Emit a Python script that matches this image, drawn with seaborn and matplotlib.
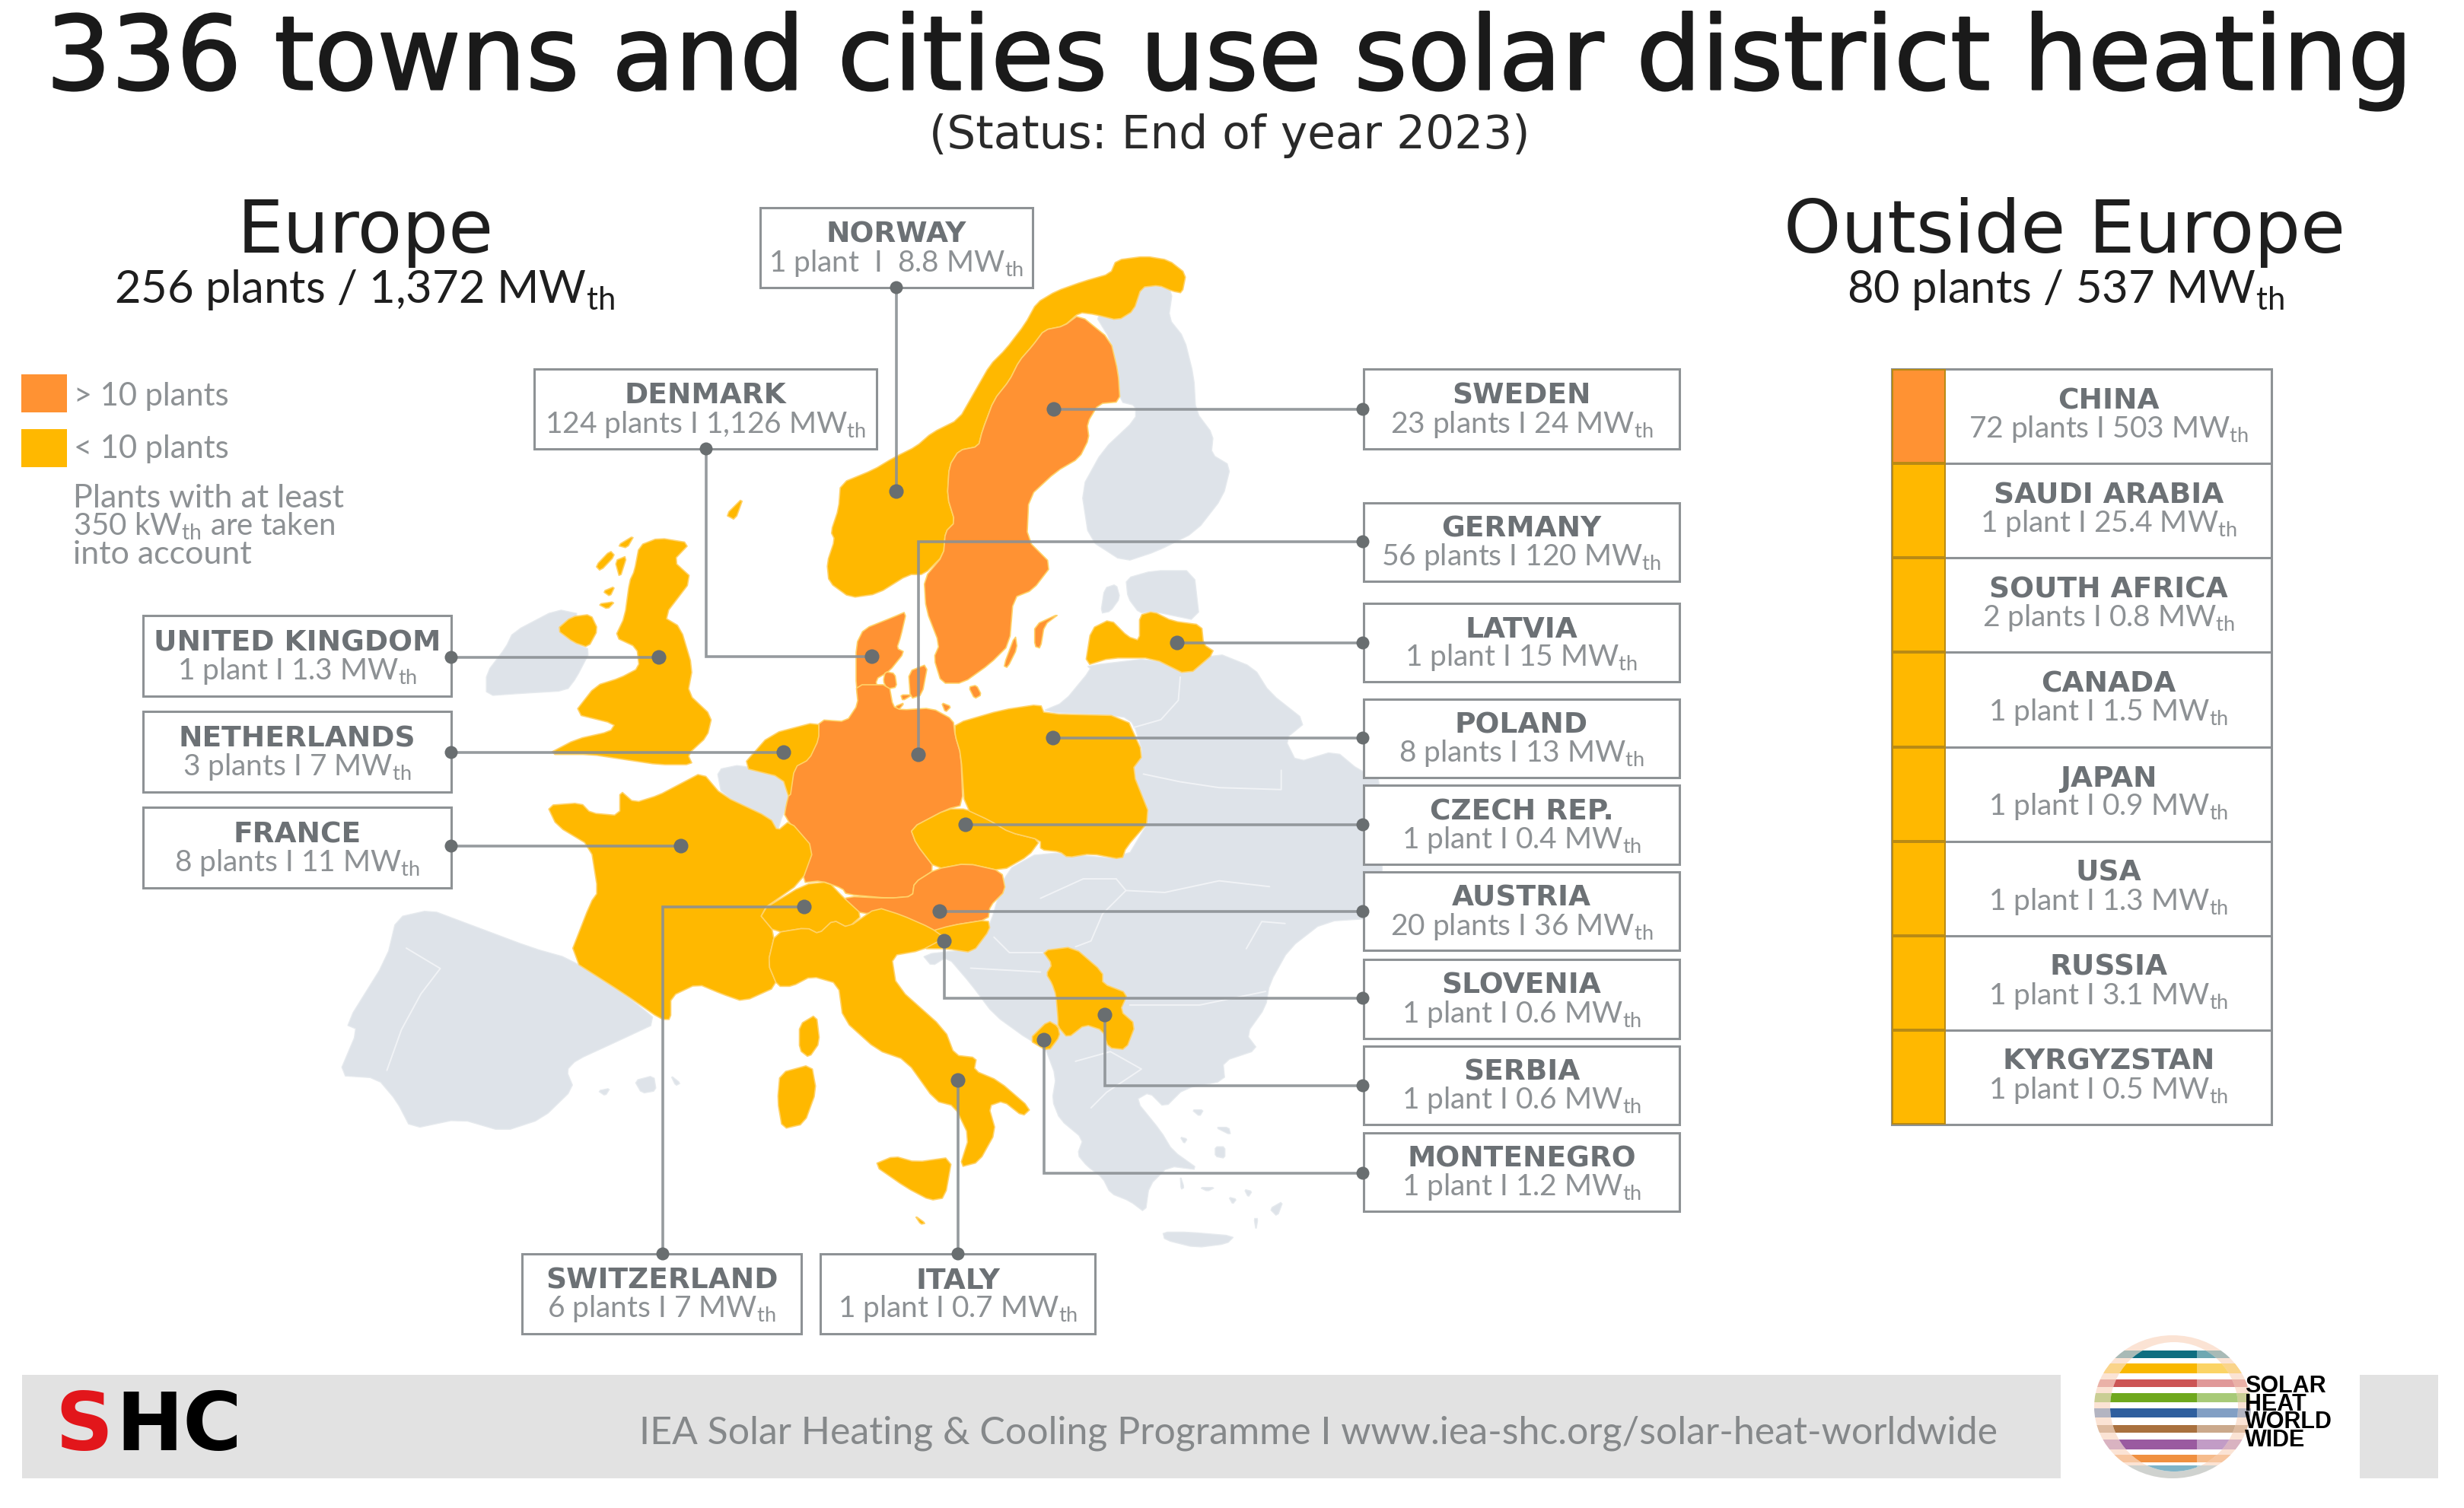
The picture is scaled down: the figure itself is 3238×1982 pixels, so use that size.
import numpy as np
import pandas as pd
import seaborn as sns
import matplotlib.pyplot as plt
import matplotlib.patheffects as pe
from matplotlib.colors import ListedColormap
from matplotlib.patches import Polygon, Rectangle, Ellipse

W, H = 3238, 1982
ORANGE = "#FF9233"
GOLD = "#FFB800"
GREY_LAND = "#DEE3E9"
BOX_EDGE = "#8E9295"
NAME_COL = "#6C7175"
STAT_COL = "#8D9194"
DOT_COL = "#696E70"

# chart values
europe_names = ["NORWAY", "DENMARK", "UNITED KINGDOM", "NETHERLANDS", "FRANCE", "SWEDEN", "GERMANY", "LATVIA",
                "POLAND", "CZECH REP.", "AUSTRIA", "SLOVENIA", "SERBIA", "MONTENEGRO", "SWITZERLAND", "ITALY"]
europe_plants = [1, 124, 1, 3, 8, 23, 56, 1, 8, 1, 20, 1, 1, 1, 6, 1]
europe_mw = [8.8, 1126, 1.3, 7, 11, 24, 120, 15, 13, 0.4, 36, 0.6, 0.6, 1.2, 7, 0.7]

outside_names = ["CHINA", "SAUDI ARABIA", "SOUTH AFRICA", "CANADA", "JAPAN", "USA", "RUSSIA", "KYRGYZSTAN"]
outside_plants = [72, 1, 2, 1, 1, 1, 1, 1]
outside_mw = [503, 25.4, 0.8, 1.5, 0.9, 1.3, 3.1, 0.5]

# label boxes, image pixels: x0, y0, x1, y1
RX0, RX1 = 1792, 2207
boxes = [(999, 273, 1357, 378), (702, 485, 1152, 590), (188, 809, 593, 915), (188, 935, 593, 1041),
         (188, 1061, 593, 1167), (RX0, 485, RX1, 590), (RX0, 661, RX1, 764), (RX0, 793, RX1, 896),
         (RX0, 919, RX1, 1022), (RX0, 1032, RX1, 1136), (RX0, 1146, RX1, 1249), (RX0, 1261, RX1, 1365),
         (RX0, 1375, RX1, 1478), (RX0, 1489, RX1, 1592), (686, 1648, 1053, 1753), (1078, 1648, 1439, 1753)]

# leader routes, first point sits on the box, last point on the country
leaders = [[(1178, 378), (1178, 646)], [(928, 590), (928, 863), (1146, 863)], [(593, 864), (866, 864)],
           [(593, 989), (1030, 989)], [(593, 1112), (895, 1112)], [(1791, 538), (1385, 538)],
           [(1791, 712), (1207, 712), (1207, 992)], [(1791, 845), (1547, 845)], [(1791, 970), (1384, 970)],
           [(1791, 1084), (1269, 1084)], [(1791, 1198), (1235, 1198)], [(1791, 1312), (1241, 1312), (1241, 1237)],
           [(1791, 1427), (1452, 1427), (1452, 1334)], [(1791, 1542), (1372, 1542), (1372, 1367)],
           [(871, 1648), (871, 1192), (1057, 1192)], [(1259, 1648), (1259, 1420)]]

# map outlines, each with the crop it was read from
C2 = (400, 650, 1.568, 1.493)
C3 = (1000, 250, 1.96, 1.96)
C4 = (1000, 900, 1.96, 1.96)

grey_shapes = [
    (C4, [(780, 45), (850, -40), (840, -49), (1010, -69), (1100, -24), (1170, -84), (1270, -44), (1310, 20), (1405, 95),
          (1350, 140), (1380, 200), (1480, 170), (1540, 220), (1600, 240), (1600, 600), (1450, 610), (1360, 680),
          (1310, 770), (1300, 830), (1250, 900), (1280, 940), (1190, 970), (1195, 1020), (1090, 1040), (1040, 1090),
          (1000, 1050), (965, 1070), (1030, 1150), (1060, 1200), (1130, 1250), (1050, 1240), (1000, 1290), (990, 1360),
          (950, 1330), (900, 1310), (880, 1270), (840, 1240), (815, 1210), (830, 1170), (770, 1120), (750, 1070),
          (760, 1010), (730, 930), (690, 915), (600, 850), (540, 770), (480, 700), (440, 725), (415, 695), (550, 680),
          (590, 620), (630, 480), (720, 430), (940, 450), (1000, 350), (950, 220), (985, 180), (960, 100), (930, 80),
          (720, 70)]),
    (C3, [(975, 250), (1025, 245), (1060, 260), (1050, 330), (1090, 380), (1115, 480), (1120, 570), (1165, 630),
          (1160, 680), (1210, 710), (1190, 790), (1120, 880), (1020, 930), (935, 958), (845, 900), (825, 770),
          (880, 670), (965, 590), (965, 555), (925, 545), (920, 470), (900, 385), (860, 320), (920, 335), (960, 310)]),
    (C3, [(940, 1000), (1010, 980), (1115, 980), (1130, 1110), (1010, 1085), (975, 1090), (945, 1050)]),
    (C3, [(885, 1025), (915, 1015), (925, 1050), (900, 1085), (875, 1090)]),
    (C2, [(430, 270), (520, 225), (570, 235), (520, 265), (555, 290), (590, 305), (560, 360), (540, 385), (450, 390),
          (375, 395), (375, 350), (415, 300)]),
    (C2, [(190, 830), (260, 815), (330, 840), (470, 890), (545, 910), (660, 980), (730, 1035), (640, 1075), (560, 1110),
          (540, 1130), (555, 1165), (490, 1225), (410, 1250), (320, 1225), (220, 1245), (190, 1190), (150, 1145),
          (70, 1140), (110, 1050), (85, 1040), (170, 910)]),
    (C2, [(850, 540), (900, 530), (985, 555), (1000, 605), (985, 630), (975, 660), (960, 635), (860, 590)]),
    (C2, [(680, 1150), (720, 1140), (725, 1170), (695, 1175)]),
    (C2, [(755, 1140), (775, 1155), (765, 1160)]),
    (C2, [(605, 1170), (630, 1165), (620, 1180)]),
    (C4, [(1035, 1410), (1100, 1410), (1220, 1420), (1200, 1440), (1120, 1450), (1040, 1430)]),
    (C4, [(1310, 1350), (1345, 1330), (1330, 1370)]),
    (C4, [(1110, 1095), (1140, 1095), (1130, 1112)]),
    (C4, [(1170, 1140), (1205, 1140), (1210, 1160)]),
    (C4, [(1170, 1190), (1195, 1190), (1195, 1220), (1170, 1215)]),
    (C4, [(1080, 1165), (1098, 1170), (1090, 1182)]),
    (C4, [(1245, 1300), (1265, 1305), (1255, 1320)]),
    (C4, [(1205, 1320), (1225, 1325), (1215, 1338)]),
    (C4, [(1130, 1295), (1170, 1295), (1150, 1305)]),
    (C4, [(1080, 1265), (1090, 1295), (1082, 1300)]),
    (C4, [(1270, 1375), (1280, 1375), (1275, 1405)]),
]

# thin white borders inside the grey land
grey_borders = [
    (C4, [(1080, -20), (1075, 40), (1030, 90), (960, 110)]),
    (C4, [(985, 230), (1080, 250), (1180, 265), (1340, 270), (1340, 220)]),
    (C4, [(915, 500), (940, 530), (1040, 535), (1180, 505), (1310, 520)]),
    (C4, [(720, 550), (830, 500), (915, 500)]),
    (C4, [(940, 530), (880, 590), (850, 660), (810, 675)]),
    (C4, [(600, 650), (640, 690), (725, 690)]),
    (C4, [(540, 730), (720, 740)]),
    (C4, [(950, 825), (1130, 825), (1300, 790)]),
    (C4, [(1250, 680), (1290, 610), (1350, 615)]),
    (C4, [(810, 970), (900, 945), (980, 990), (890, 1050), (850, 1090)]),
    (C2, [(210, 890), (280, 930), (240, 980), (200, 1050), (170, 1130)]),
]

country_shapes = {
    "NORWAY": [(C3, [(175, 1010), (170, 960), (190, 900), (180, 880), (200, 820), (205, 755), (290, 720), (340, 690),
                     (400, 660), (440, 625), (510, 590), (550, 520), (590, 450), (630, 410), (680, 345), (710, 290),
                     (760, 260), (830, 235), (900, 215), (915, 180), (990, 170), (1050, 180), (1095, 215), (1085, 265),
                     (1060, 260), (1025, 245), (980, 250), (960, 310), (920, 335), (860, 320), (820, 315), (780, 350),
                     (730, 360), (700, 400), (665, 440), (640, 490), (600, 540), (570, 620), (560, 660), (510, 670),
                     (485, 710), (480, 790), (500, 855), (475, 880), (470, 940), (420, 990), (380, 990), (300, 1040),
                     (230, 1050)])],
    "SWEDEN": [(C3, [(820, 320), (900, 385), (920, 470), (925, 545), (870, 550), (840, 600), (845, 640), (820, 690),
                     (760, 725), (690, 790), (685, 900), (750, 965), (700, 1030), (650, 1050), (640, 1170), (590, 1220),
                     (520, 1270), (465, 1270), (445, 1205), (460, 1170), (425, 1080), (420, 1000), (470, 940),
                     (475, 880), (500, 855), (480, 790), (485, 710), (510, 670), (560, 660), (570, 620), (600, 540),
                     (640, 490), (665, 440), (700, 400), (730, 360), (780, 350)]),
               (C3, [(705, 1120), (770, 1090), (730, 1120), (720, 1180), (705, 1175)]),
               (C3, [(655, 1145), (660, 1180), (635, 1230), (625, 1225)])],
    "DENMARK": [(C3, [(245, 1285), (245, 1170), (265, 1130), (340, 1100), (375, 1085), (360, 1150), (350, 1180),
                      (370, 1190), (330, 1240), (295, 1260), (305, 1300), (330, 1340), (260, 1340)]),
                (C3, [(320, 1240), (345, 1245), (350, 1280), (325, 1285), (315, 1265)]),
                (C3, [(380, 1240), (430, 1220), (415, 1300), (385, 1310)]),
                (C3, [(360, 1300), (390, 1300), (365, 1315)]),
                (C3, [(345, 1330), (370, 1320), (350, 1345)]),
                (C3, [(535, 1280), (555, 1275), (568, 1300), (550, 1310)])],
    "GERMANY": [(C4, [(150, 90), (220, 95), (250, 50), (245, 0), (330, 0), (340, 55), (360, 65), (440, 60), (495, 90),
                      (500, 130), (515, 180), (520, 310), (480, 320), (385, 370), (400, 410), (450, 475), (395, 510),
                      (390, 545), (330, 550), (220, 540), (210, 525), (155, 505), (105, 510), (130, 420), (60, 340),
                      (65, 310), (75, 270), (85, 190), (145, 150)]),
                (C3, [(465, 1320), (490, 1330), (475, 1345)])],
    "CZECH REP.": [(C4, [(385, 370), (480, 320), (530, 320), (590, 350), (640, 380), (720, 400), (690, 440), (620, 480),
                         (530, 460), (450, 475), (400, 410)])],
    "POLAND": [(C4, [(500, 100), (620, 65), (720, 50), (730, 75), (940, 80), (985, 180), (955, 220), (1005, 345),
                     (940, 420), (930, 450), (850, 435), (790, 445), (770, 430), (720, 425), (720, 400), (640, 380),
                     (590, 350), (525, 320), (515, 180), (500, 130)])],
    "AUSTRIA": [(C4, [(220, 545), (330, 550), (390, 545), (395, 510), (450, 475), (530, 460), (620, 480), (630, 530),
                      (590, 570), (585, 605), (490, 620), (440, 640), (395, 620), (350, 590), (300, 585), (265, 590),
                      (210, 570)])],
    "SLOVENIA": [(C4, [(420, 640), (490, 620), (585, 605), (590, 630), (545, 690), (480, 680), (415, 680)])],
    "LATVIA": [(C3, [(835, 1225), (850, 1130), (900, 1105), (945, 1150), (975, 1160), (975, 1095), (1010, 1085),
                     (1060, 1110), (1135, 1120), (1140, 1170), (1170, 1190), (1100, 1250), (1010, 1205), (900, 1205)])],
    "SERBIA": [(C4, [(725, 685), (805, 675), (880, 740), (880, 770), (945, 795), (925, 840), (965, 875), (940, 940),
                     (895, 935), (880, 890), (835, 875), (790, 910), (765, 880), (765, 860), (760, 800), (750, 770),
                     (735, 745), (750, 720)])],
    "MONTENEGRO": [(C4, [(690, 915), (740, 865), (765, 880), (770, 905), (740, 945)])],
    "NETHERLANDS": [(C2, [(900, 535), (960, 470), (1060, 445), (1060, 480), (1040, 520), (1010, 535), (1000, 600),
                          (985, 555)])],
    "FRANCE": [(C2, [(500, 610), (570, 605), (590, 625), (650, 630), (650, 580), (680, 605), (730, 590), (770, 570),
                     (820, 545), (860, 590), (960, 635), (975, 660), (1000, 640), (1050, 695), (1025, 760), (935, 820),
                     (970, 860), (955, 920), (975, 965), (905, 995), (860, 980), (810, 960), (755, 985), (755, 1030),
                     (735, 1030), (660, 980), (545, 910), (590, 800), (605, 780), (590, 690), (520, 650)]),
               (C2, [(1020, 1040), (1055, 1020), (1062, 1075), (1040, 1105), (1020, 1090)])],
    "SWITZERLAND": [(C2, [(935, 820), (1030, 765), (1080, 760), (1110, 790), (1150, 825), (1120, 850), (1090, 835),
                          (1060, 862), (1035, 850), (970, 860)])],
    "ITALY": [(C2, [(975, 965), (955, 920), (970, 860), (1035, 850), (1060, 862), (1090, 835), (1120, 850), (1180, 810),
                    (1230, 825), (1290, 850), (1320, 870), (1270, 895), (1210, 905), (1220, 965), (1320, 1050),
                    (1340, 1100), (1385, 1105), (1380, 1130), (1430, 1150), (1497, 1205), (1480, 1220), (1440, 1190),
                    (1410, 1200), (1425, 1250), (1390, 1310), (1350, 1320), (1370, 1260), (1340, 1200), (1300, 1190),
                    (1240, 1110), (1180, 1090), (1110, 1030), (1100, 960), (1045, 945), (1005, 965)]),
              (C2, [(1172, 1315), (1215, 1298), (1260, 1310), (1335, 1300), (1320, 1380), (1290, 1385), (1240, 1360)]),
              (C2, [(980, 1135), (1045, 1118), (1055, 1170), (1030, 1235), (985, 1245), (975, 1190)]),
              (C2, [(1258, 1415), (1280, 1430), (1270, 1432)])],
    "UNITED KINGDOM": [(C2, [(690, 100), (730, 85), (795, 95), (760, 130), (800, 165), (740, 240), (775, 260), (800, 340),
                             (790, 390), (840, 435), (830, 475), (790, 510), (800, 530), (730, 530), (660, 520), (590, 510),
                             (500, 510), (560, 480), (630, 465), (640, 450), (555, 430), (600, 375), (650, 360), (690, 340),
                             (685, 300), (640, 280), (660, 240), (670, 170), (680, 150)]),
                       (C2, [(520, 265), (550, 240), (590, 235), (605, 265), (585, 300), (555, 290)]),
                       (C2, [(600, 140), (630, 110), (640, 120), (610, 150)]),
                       (C2, [(645, 100), (680, 80), (665, 105)]),
                       (C2, [(640, 130), (665, 120), (650, 165)]),
                       (C2, [(615, 190), (640, 180), (630, 200)]),
                       (C2, [(605, 215), (640, 210), (625, 225)]),
                       (C2, [(868, 40), (905, 5), (888, 50)])],
}

globe_band_colors = ["#0E6E80", "#F9B800", "#CC5555", "#6FA81E", "#2F5F9E", "#A9713F", "#9A5AA0", "#F09040", "#7FB4C8"]
globe_band_tops = [1775, 1792, 1813, 1831, 1851, 1873, 1892, 1912, 1926]
globe_band_bottoms = [1785, 1805, 1823, 1843, 1863, 1883, 1905, 1922, 1943]


def to_px(crop, pts):
    x0, y0, sx, sy = crop
    pts = np.array(pts, dtype=float)
    return np.column_stack([x0 + pts[:, 0] / sx, y0 + pts[:, 1] / sy])


def soften(pts, cut=0.18):
    # small corner cut so the traced coast looks less angular
    nxt = np.roll(pts, -1, axis=0)
    return np.column_stack([(1 - cut) * pts + cut * nxt, cut * pts + (1 - cut) * nxt]).reshape(-1, 2)


def stat_line(plants, mw, gap=" "):
    word = "plant" if plants == 1 else "plants"
    return f"{plants} {word}{gap}I{gap}{mw:,g} MW$_{{\\mathregular{{th}}}}$"


sns.set_theme(style="white")
plt.rcParams["font.family"] = ["Lato", "DejaVu Sans"]

fig = plt.figure(figsize=(W / 100, H / 100), dpi=100)
ax = fig.add_axes([0, 0, 1, 1])
ax.set_xlim(0, W)
ax.set_ylim(H, 0)
ax.axis("off")

# land
for crop, pts in grey_shapes:
    ax.add_patch(Polygon(soften(to_px(crop, pts)), closed=True, fc=GREY_LAND, ec="#E6EAEE", lw=1, zorder=1))
for crop, pts in grey_borders:
    line = to_px(crop, pts)
    ax.plot(line[:, 0], line[:, 1], color="#F1F3F6", lw=1.4, zorder=1.5)

tier = dict(zip(europe_names, europe_plants))
for name, shapes in country_shapes.items():
    col = ORANGE if tier[name] > 10 else GOLD
    for crop, pts in shapes:
        ax.add_patch(Polygon(soften(to_px(crop, pts)), closed=True, fc=col, ec="#FFD268", lw=1.2, zorder=2,
                             joinstyle="round"))

# leaders and dots
dot_rows = []
for route in leaders:
    route = np.array(route)
    ax.plot(route[:, 0], route[:, 1], color="#8B9094", lw=2.6, alpha=0.9, zorder=3, solid_joinstyle="miter")
    dot_rows.append({"x": route[0, 0], "y": route[0, 1], "end": "box"})
    dot_rows.append({"x": route[-1, 0], "y": route[-1, 1], "end": "map"})
dots = pd.DataFrame(dot_rows)

# label boxes
for name, plants, mw, (x0, y0, x1, y1) in zip(europe_names, europe_plants, europe_mw, boxes):
    ax.add_patch(Rectangle((x0, y0), x1 - x0, y1 - y0, fc="white", ec=BOX_EDGE, lw=2.2, zorder=4))
    cx, cy = (x0 + x1) / 2, (y0 + y1) / 2
    gap = "  " if name == "NORWAY" else " "
    ax.text(cx, cy - 17, name, ha="center", va="center", fontsize=27, fontweight="bold",
            family=["DejaVu Sans"], color=NAME_COL, zorder=5)
    ax.text(cx, cy + 20, stat_line(plants, mw, gap), ha="center", va="center", fontsize=28, color=STAT_COL, zorder=5)

sns.scatterplot(data=dots, x="x", y="y", size="end", sizes={"box": 150, "map": 190}, color=DOT_COL, linewidth=0,
                legend=False, ax=ax, zorder=6)
ax.set_xlim(0, W)
ax.set_ylim(H, 0)
ax.axis("off")

# title block
heavier = [pe.withStroke(linewidth=1.6, foreground="#1A1A1A")]
ax.text(1616, 80, "336 towns and cities use solar district heating", ha="center", va="center", fontsize=97,
        family=["DejaVu Sans"], color="#1A1A1A", path_effects=heavier)
ax.text(1616, 178, "(Status: End of year 2023)", ha="center", va="center", fontsize=43,
        family=["DejaVu Sans"], color="#2A2A2A")
ax.text(480, 306, "Europe", ha="center", va="center", fontsize=69, family=["DejaVu Sans"], color="#1E1E1E")
ax.text(479, 381, "256 plants / 1,372 MW$_{\\mathregular{th}}$", ha="center", va="center", fontsize=43, color="#1E1E1E")
ax.text(2713, 306, "Outside Europe", ha="center", va="center", fontsize=69, family=["DejaVu Sans"], color="#1E1E1E")
ax.text(2714, 381, "80 plants / 537 MW$_{\\mathregular{th}}$", ha="center", va="center", fontsize=43, color="#1E1E1E")

# legend
ax.add_patch(Rectangle((28, 492), 60, 50, fc=ORANGE, ec="none"))
ax.add_patch(Rectangle((28, 564), 60, 50, fc=GOLD, ec="none"))
ax.text(97, 521, "> 10 plants", va="center", fontsize=30, color=STAT_COL)
ax.text(97, 590, "< 10 plants", va="center", fontsize=30, color=STAT_COL)
ax.text(96, 655, "Plants with at least", va="center", fontsize=31, color=STAT_COL)
ax.text(96, 692, "350 kW$_{\\mathregular{th}}$ are taken", va="center", fontsize=29, color=STAT_COL)
ax.text(96, 729, "into account", va="center", fontsize=31, color=STAT_COL)

# outside europe table
T_X0, T_X1, T_XR, T_Y0, T_Y1 = 2486, 2557, 2985, 485, 1478
row_h = (T_Y1 - T_Y0) / len(outside_names)
ax.add_patch(Rectangle((T_X0, T_Y0), T_XR - T_X0, T_Y1 - T_Y0, fc="white", ec=BOX_EDGE, lw=2.2, zorder=2))
for i, (name, plants, mw) in enumerate(zip(outside_names, outside_plants, outside_mw)):
    y = T_Y0 + i * row_h
    if i:
        ax.plot([T_X0, T_XR], [y, y], color=BOX_EDGE, lw=2.2, zorder=3)
    ax.text((T_X1 + T_XR) / 2, y + 42, name, ha="center", va="center", fontsize=27, fontweight="bold",
            family=["DejaVu Sans"], color=NAME_COL)
    ax.text((T_X1 + T_XR) / 2, y + 79, stat_line(plants, mw), ha="center", va="center", fontsize=28, color=STAT_COL)

tiers = pd.DataFrame({"tier": [int(p > 10) for p in outside_plants]}, index=outside_names)
strip = fig.add_axes([T_X0 / W, 1 - T_Y1 / H, (T_X1 - T_X0) / W, (T_Y1 - T_Y0) / H])
sns.heatmap(tiers, ax=strip, cmap=ListedColormap([GOLD, ORANGE]), vmin=0, vmax=1, cbar=False, xticklabels=False,
            yticklabels=False, linewidths=1.6, linecolor="#B98A14")
strip.set_xlabel("")
strip.set_ylabel("")

# footer
ax.add_patch(Rectangle((29, 1807), 2679, 136, fc="#E2E2E2", ec="none", zorder=1))
ax.add_patch(Rectangle((3101, 1807), 103, 136, fc="#E2E2E2", ec="none", zorder=1))
ax.text(1732, 1884, "IEA Solar Heating & Cooling Programme I www.iea-shc.org/solar-heat-worldwide", ha="center",
        va="center", fontsize=36, color="#85888A", zorder=2)
ax.text(72, 1877, "S", va="center", fontsize=76, fontweight="bold", family=["DejaVu Sans"], color="#E2161B", zorder=2)
ax.text(152, 1877, "HC", va="center", fontsize=76, fontweight="bold", family=["DejaVu Sans"], color="black", zorder=2)

# globe logo
GX, GY = 2855, 1849
outer = Ellipse((GX, GY), 206, 188, fc="#FBE3D4", ec="none", zorder=2)
ax.add_patch(outer)
inner_left = Ellipse((GX + 2, GY), 168, 170, fc="white", ec="none", zorder=2.5)
ax.add_patch(inner_left)
for col, top, bot in zip(globe_band_colors, globe_band_tops, globe_band_bottoms):
    pale = ax.add_patch(Rectangle((GX - 103, top), 206, bot - top, fc=col, alpha=0.35, ec="none", zorder=2.2))
    pale.set_clip_path(outer)
    dark = ax.add_patch(Rectangle((GX - 103, top), 135, bot - top, fc=col, ec="none", zorder=3))
    dark.set_clip_path(inner_left)
    light = ax.add_patch(Rectangle((GX + 32, top), 70, bot - top, fc=col, alpha=0.6, ec="none", zorder=3))
    light.set_clip_path(inner_left)
ax.text(2950, 1807, "SOLAR\nHEAT\nWORLD\nWIDE", va="top", ha="left", fontsize=22, fontweight="bold",
        family=["Liberation Sans"], color="black", linespacing=0.72, zorder=6)

fig.savefig("out.png", dpi=100, facecolor="white")
